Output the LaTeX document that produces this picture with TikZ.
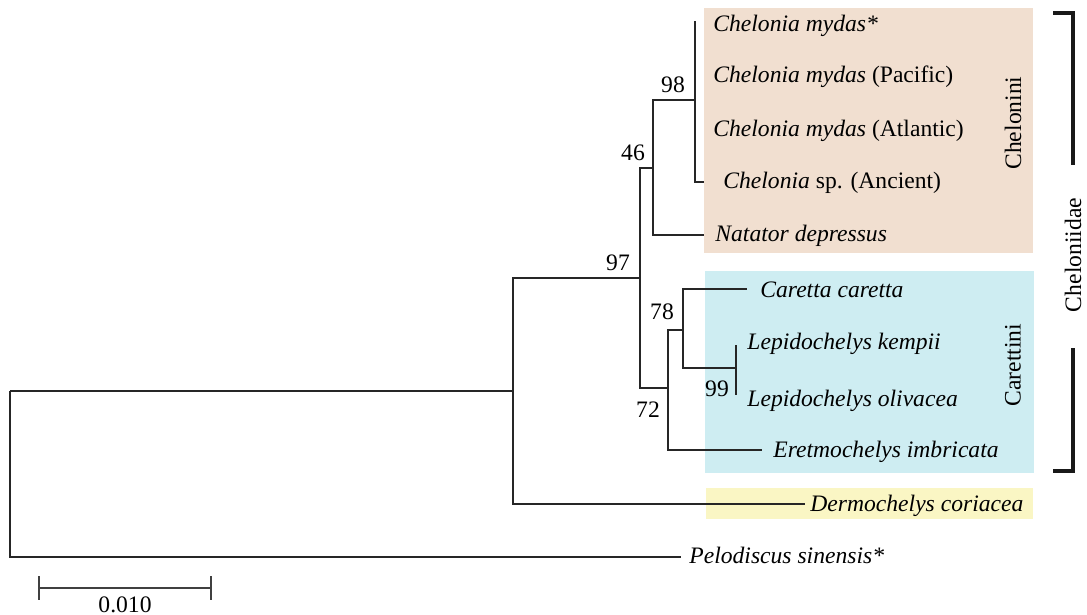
\documentclass[tikz,border=0pt]{standalone}
\usepackage{fontspec}
\setmainfont{Liberation Serif}
\definecolor{chelbg}{RGB}{241,223,208}
\definecolor{carbg}{RGB}{206,237,242}
\definecolor{dermbg}{RGB}{250,246,196}
\newcommand{\treefont}{\fontsize{11.8}{14}\selectfont}
\tikzset{
    branch/.style={line width=0.7pt, draw=black!85},
    taxon/.style={anchor=base west, inner sep=0pt, font=\treefont\itshape},
    boot/.style={inner sep=0pt, font=\treefont},
    clade/.style={rotate=90, inner sep=0pt, font=\treefont},
    bracket/.style={line width=1.6pt, draw=black!90},
    scalebar/.style={line width=1.1pt, draw=black!75}
}
\begin{document}
\begin{tikzpicture}[x=0.5pt, y=-0.5pt]
            \useasboundingbox (0,0) rectangle (1087,615);

            \fill[chelbg] (704,8) rectangle (1033,253);
            \fill[carbg] (705,271) rectangle (1034,473);
            \fill[dermbg] (706,488) rectangle (1033,519);

            \coordinate (root) at (10,391);
            \coordinate (nA) at (513,391);
            \coordinate (nB) at (640,278);
            \coordinate (nC) at (653,168);
            \coordinate (nE) at (695,100);
            \coordinate (nD) at (668,388);
            \coordinate (nF) at (683,330);
            \coordinate (nG) at (736,368);

            \coordinate (tMyd) at (695,21);
            \coordinate (tPac) at (695,75);
            \coordinate (tAtl) at (695,130);
            \coordinate (tAnc) at (704,182);
            \coordinate (tNat) at (704,235);
            \coordinate (tCar) at (747,289);
            \coordinate (tKem) at (736,345);
            \coordinate (tOli) at (736,395);
            \coordinate (tEre) at (762,450);
            \coordinate (tDer) at (805,504);
            \coordinate (tPel) at (681,557);

            \foreach \p/\c in {root/nA, root/tPel, nA/nB, nA/tDer, nB/nC, nB/nD,
                               nC/nE, nC/tNat, nE/tMyd, nE/tPac, nE/tAtl, nE/tAnc,
                               nD/nF, nD/tEre, nF/tCar, nF/nG, nG/tKem, nG/tOli}{
                \draw[branch] (\p) |- (\c);
            }

            \node[taxon] (lMyd) at (713,32) {Chelonia mydas*};
            \node[taxon] (lPac) at (713,83) {Chelonia mydas \textup{(Pacific)}};
            \node[taxon] (lAtl) at (713,137) {Chelonia mydas \textup{(Atlantic)}};
            \node[taxon] (lAnc) at (723,189) {Chelonia \textup{sp. (Ancient)}};
            \node[taxon] (lNat) at (715,242) {Natator depressus};
            \node[taxon] (lCar) at (760,297) {Caretta caretta};
            \node[taxon] (lKem) at (747,349) {Lepidochelys kempii};
            \node[taxon] (lOli) at (747,406) {Lepidochelys olivacea};
            \node[taxon] (lEre) at (773,457) {Eretmochelys imbricata};
            \node[taxon] (lDer) at (810,511) {Dermochelys coriacea};
            \node[taxon] (lPel) at (689,563) {Pelodiscus sinensis*};

            \node[boot] (bA) at (618,263) {97};
            \node[boot] (bC) at (633,153) {46};
            \node[boot] (bE) at (673,85) {98};
            \node[boot] (bF) at (662,312) {78};
            \node[boot] (bD) at (648,410) {72};
            \node[boot] (bG) at (717,389) {99};

            \node[clade] (chelonini) at (1013,123) {Chelonini};
            \node[clade] (carettini) at (1013,365) {Carettini};
            \node[clade] (cheloniidae) at (1073,255) {Cheloniidae};

            \coordinate (k1) at (1053,13);
            \coordinate (k2) at (1073,165);
            \coordinate (k3) at (1073,348);
            \coordinate (k4) at (1053,471);
            \draw[bracket] (k1) -| (k2);
            \draw[bracket] (k3) |- (k4);

            \coordinate (sL) at (39,588);
            \coordinate (sR) at (211,588);
            \draw[scalebar] (sL) -- (sR);
            \draw[scalebar] ([yshift=6]sL) -- ([yshift=-6]sL);
            \draw[scalebar] ([yshift=6]sR) -- ([yshift=-6]sR);
            \node[boot] (sLab) at (125,605) {0.010};
        \end{tikzpicture}
\end{document}
